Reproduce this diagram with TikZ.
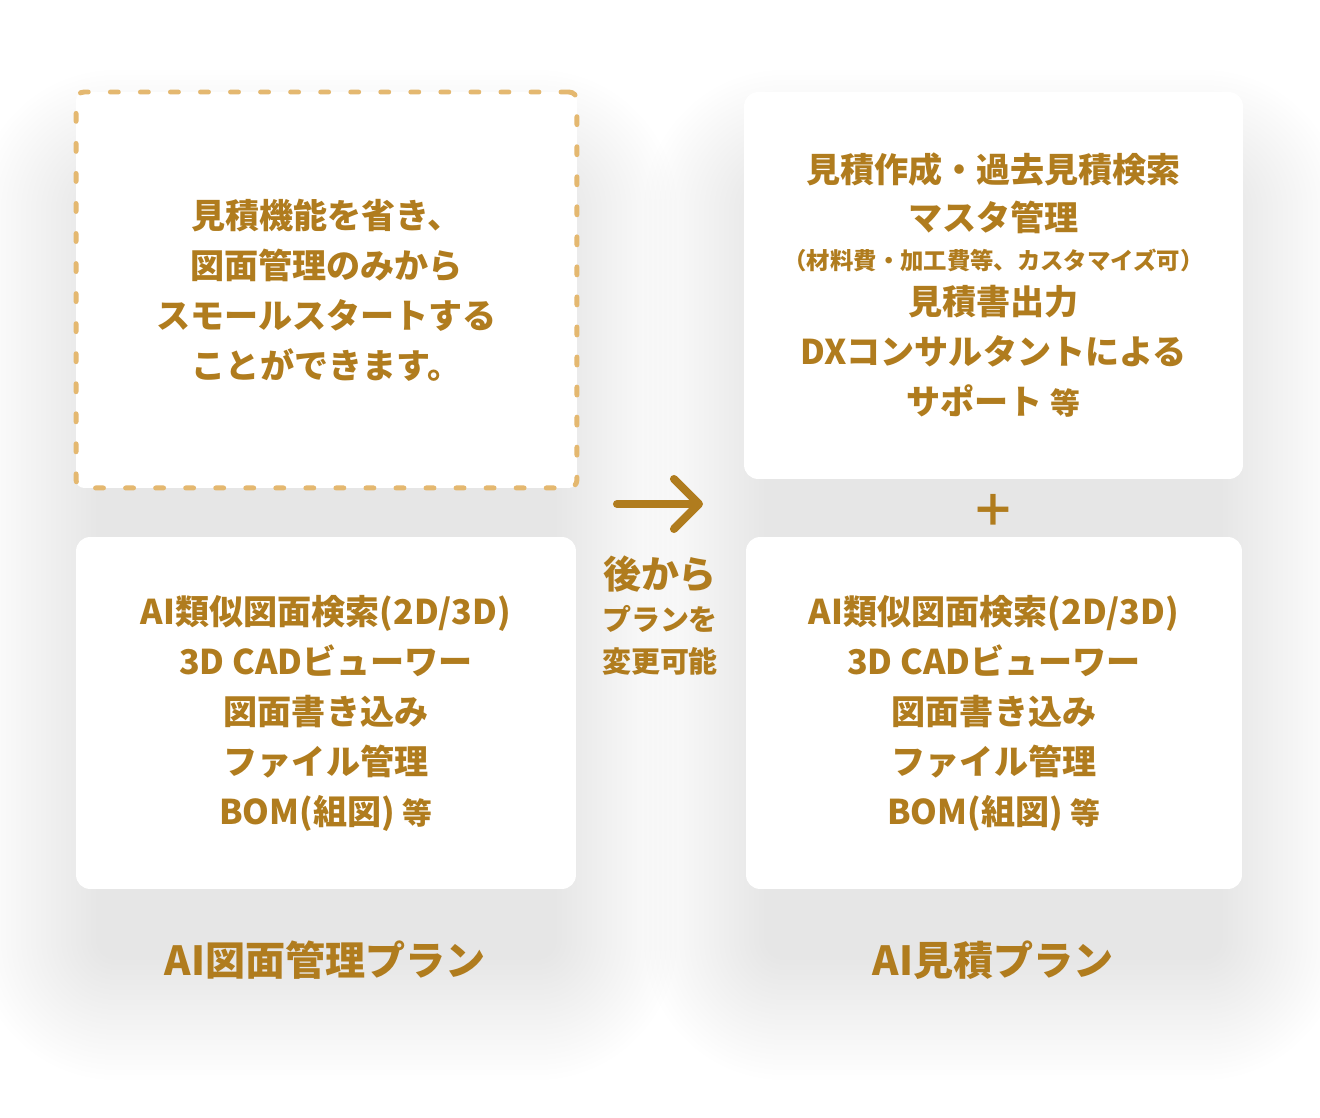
\documentclass[tikz,border=0pt]{standalone}
\usepackage{fontspec}
\newfontfamily\jpfont{Noto Sans CJK JP}
\usepackage{tikz}
\usetikzlibrary{arrows.meta,positioning}
\pgfdeclarelayer{background}
\pgfsetlayers{background,main}
\definecolor{plan_gold}{RGB}{176,124,30}
\definecolor{dash_gold}{RGB}{228,184,112}
\newcommand\etcmark{{\fontsize{17pt}{28.45pt}\selectfont 等}}
\tikzset{
plan_box/.style={
	% The shape:
	rectangle,
	rounded corners=2.8mm,
	% The size:
	minimum width=10cm,
	minimum height=7.04cm,
	% The border:
	draw=none,
	% The filling:
	fill=white,
	% Font
	text=plan_gold,
	align=center,
	font=\jpfont\bfseries\fontsize{19.4pt}{28.45pt}\selectfont
}
}
\tikzset{
idea_box/.style={
	plan_box,
	% The size:
	minimum width=10.02cm,
	minimum height=7.92cm,
	% The border:
	line width=2.8pt,
	draw=dash_gold,
	% short dashes with round ends
	dash pattern=on 4.5pt off 12.6pt,
	line cap=round,
	rounded corners=1.6mm
},
% one soft layer of the shadow under a plan column
shadow_layer/.style={
	fill=black,
	fill opacity=0.0042,
	draw=none
},
title_text/.style={
	text=plan_gold,
	font=\jpfont\bfseries\fontsize{22.8pt}{26pt}\selectfont
},
note_text/.style={
	text=plan_gold,
	inner sep=0pt,
	font=\jpfont\bfseries\fontsize{16.5pt}{20pt}\selectfont
},
change_arrow/.style={
	plan_gold,
	line width=4.6pt,
	line cap=round,
	-{Straight Barb[length=0.5cm, width=1.0cm, round]}
}
}

\begin{document}
\begin{tikzpicture}[x=0.02cm, y=-0.02cm]
	\useasboundingbox (0,0) rectangle (1320,1118);
	% the two plan columns
	\node[idea_box] (idea_box) at (326.5,290)
		{見積機能を省き、\\図面管理のみから\\スモールスタートする\\ことができます。};
	\node[plan_box] (draw_box) at (326,713)
		{AI類似図面検索(2D/3D)\\3D CADビューワー\\図面書き込み\\ファイル管理\\BOM(組図) \etcmark};
	\node[plan_box, minimum width=9.98cm, minimum height=7.74cm] (quote_box) at (993.5,285.5)
		{見積作成・過去見積検索\\[-1.1pt]マスタ管理\\[-6.3pt]%
		{\fontsize{13.3pt}{15pt}\selectfont （材料費・加工費等、カスタマイズ可）}\\[-2.8pt]%
		見積書出力\\DXコンサルタントによる\\サポート \etcmark};
	\node[plan_box, minimum width=9.92cm] (cad_box) at (994,713)
		{AI類似図面検索(2D/3D)\\3D CADビューワー\\図面書き込み\\ファイル管理\\BOM(組図) \etcmark};
	\node[title_text, font=\jpfont\bfseries\fontsize{25pt}{28pt}\selectfont] (plus) at (993,510) {＋};
	% plan names
	\node[title_text] (draw_title) at (325,960) {AI図面管理プラン};
	\node[title_text] (quote_title) at (993,960) {AI見積プラン};
	% switching later
	\coordinate (arrow_tail) at (617,504);
	\coordinate (arrow_tip) at (703,504);
	\draw[change_arrow] (arrow_tail) -- (arrow_tip);
	\node[note_text, font=\jpfont\bfseries\fontsize{21.6pt}{24pt}\selectfont] (later_top) at (660,574) {後から};
	\node[note_text] (later_mid) at (660,619) {プランを};
	\node[note_text] (later_low) at (660,661) {変更可能};
	\begin{pgfonlayer}{background}
		\fill[white] (0,0) rectangle (1320,1118);
		% soft shadows, built up layer by layer
		\foreach \s [evaluate=\s as \r using 0.4+0.02*\s] in {0,5,...,120} {
			\fill[shadow_layer, rounded corners=\r cm] ({96-\s},{190-\s}) rectangle ({557+\s},{960+\s});
			\fill[shadow_layer, rounded corners=\r cm] ({764-\s},{190-\s}) rectangle ({1223+\s},{960+\s});
		}
	\end{pgfonlayer}
\end{tikzpicture}
\end{document}
